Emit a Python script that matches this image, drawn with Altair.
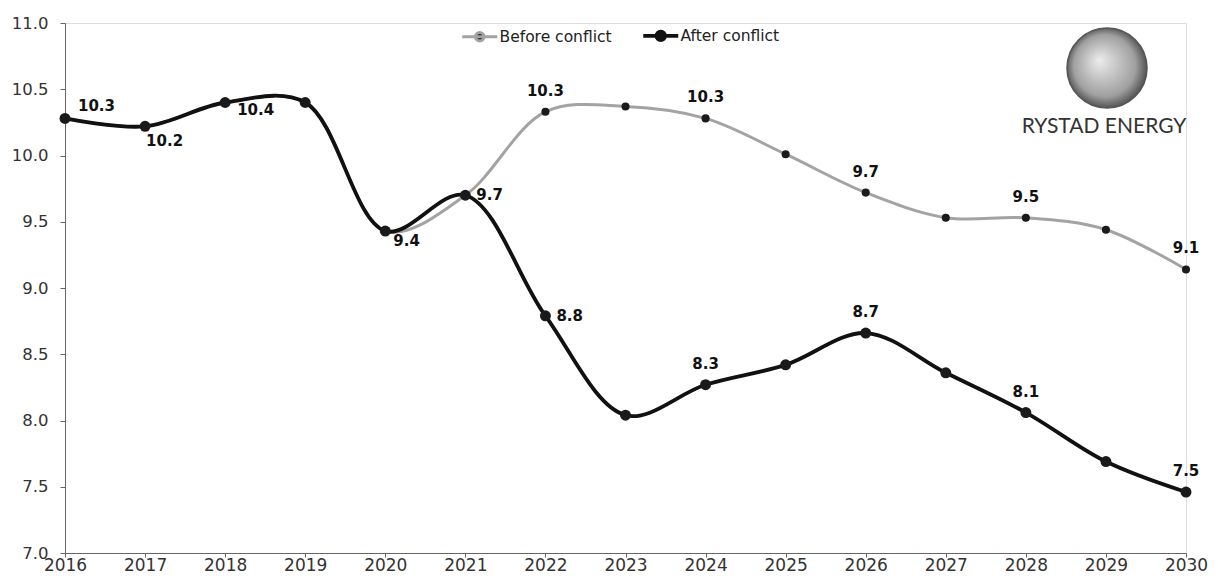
import altair as alt
import pandas as pd

# ---- data ----
years = list(range(2016, 2031))
before_conflict = [10.28, 10.22, 10.40, 10.40, 9.43, 9.70, 10.33, 10.37, 10.28, 10.01, 9.72, 9.53, 9.53, 9.44, 9.14]
after_conflict = [10.28, 10.22, 10.40, 10.40, 9.43, 9.70, 8.79, 8.04, 8.27, 8.42, 8.66, 8.36, 8.06, 7.69, 7.46]
series_names = ["Before conflict", "After conflict"]

after_label_years = [2016, 2017, 2018, 2020, 2021, 2022, 2024, 2026, 2028, 2030]
after_label_place = ["ne", "se", "e_low", "se2", "e", "e", "n", "n", "n", "n"]
before_label_years = [2022, 2024, 2026, 2028, 2030]
before_label_place = ["n", "n", "n", "n", "n"]

y_ticks = [7.0, 7.5, 8.0, 8.5, 9.0, 9.5, 10.0, 10.5, 11.0]
logo_text = "RYSTAD ENERGY"

# ---- tables ----
rows = []
for name, vals in zip(series_names, [before_conflict, after_conflict]):
    for yr, v in zip(years, vals):
        rows.append({"year": yr, "value": v, "series": name})
df = pd.DataFrame(rows)

lab_rows = []
for yr, pl in zip(after_label_years, after_label_place):
    lab_rows.append({"year": yr, "value": after_conflict[years.index(yr)], "series": "After conflict", "place": pl})
for yr, pl in zip(before_label_years, before_label_place):
    lab_rows.append({"year": yr, "value": before_conflict[years.index(yr)], "series": "Before conflict", "place": pl})
lab = pd.DataFrame(lab_rows)

# label placement styles (offsets in px)
placements = {
    "ne": dict(align="left", dx=13, dy=-12),
    "se": dict(align="left", dx=1, dy=15),
    "e_low": dict(align="left", dx=12, dy=7),
    "se2": dict(align="left", dx=8, dy=10),
    "e": dict(align="left", dx=11, dy=0),
    "n": dict(align="center", dx=0, dy=-21),
}

FONT = "DejaVu Sans"

x_enc = alt.X("year:Q",
              scale=alt.Scale(domain=[2016, 2030], nice=False, zero=False),
              axis=alt.Axis(values=years, format="d", title=None, grid=False,
                            labelFontSize=17, labelColor="#333", labelFont=FONT,
                            domainColor="#666", tickColor="#666", tickSize=4,
                            labelPadding=0, labelFlush=False))
y_enc = alt.Y("value:Q",
              scale=alt.Scale(domain=[7, 11], nice=False, zero=False),
              axis=alt.Axis(values=y_ticks, format=".1f", title=None, grid=False,
                            labelFontSize=16.5, labelColor="#333", labelFont=FONT,
                            domainColor="#666", tickColor="#666", tickSize=5,
                            labelPadding=12))

base = alt.Chart(df)

# custom legend glyph: line with a dot (symbol size 100 -> 5px per unit)
legend_path = "M-3.5,0L3.5,0M0.85,0A0.85,0.85,0,1,1,-0.85,0A0.85,0.85,0,1,1,0.85,0Z"

lines = base.mark_line(interpolate="catmull-rom").encode(
    x=x_enc, y=y_enc,
    color=alt.Color("series:N",
                    scale=alt.Scale(domain=series_names, range=["#a3a3a3", "#111111"]),
                    legend=alt.Legend(title=None, orient="none", legendX=407, legendY=5,
                                      direction="horizontal", symbolType=legend_path,
                                      symbolSize=100, symbolStrokeWidth=3,
                                      symbolFillColor="#222",
                                      labelFontSize=15.5, labelColor="#222", labelFont=FONT,
                                      labelOffset=12, columnPadding=23)),
    strokeWidth=alt.StrokeWidth("series:N",
                                scale=alt.Scale(domain=series_names, range=[3, 3.8]),
                                legend=None),
    order=alt.Order("year:Q"),
)

pts_before = base.transform_filter(alt.datum.series == series_names[0]).mark_point(
    filled=True, opacity=1, shape="circle", size=65, color="#1a1a1a"
).encode(x="year:Q", y="value:Q")
pts_after = base.transform_filter(alt.datum.series == series_names[1]).mark_point(
    filled=True, opacity=1, shape="circle", size=120, color="#1a1a1a"
).encode(x="year:Q", y="value:Q")

label_layers = []
for pl, st in placements.items():
    label_layers.append(
        alt.Chart(lab).transform_filter(alt.datum.place == pl).mark_text(
            font=FONT, fontSize=15, fontWeight="bold", color="#111",
            baseline="middle", **st
        ).encode(x="year:Q", y="value:Q", text=alt.Text("value:Q", format=".1f"))
    )

logo_df = pd.DataFrame({"t": [logo_text]})
globe = alt.Chart(logo_df).mark_point(
    shape="circle", filled=True, opacity=1, size=6400,
    fill=alt.RadialGradient(gradient="radial", x1=0.4, y1=0.4, r1=0, x2=0.5, y2=0.5, r2=0.55,
                            stops=[alt.GradientStop(color="#ececec", offset=0),
                                   alt.GradientStop(color="#a0a0a0", offset=0.7),
                                   alt.GradientStop(color="#3a3a3a", offset=1)]),
    stroke="#555", strokeWidth=1.5,
).encode(x=alt.value(1042), y=alt.value(45))
logo = alt.Chart(logo_df).mark_text(
    font="Lato", fontSize=21, color="#333", align="center", baseline="middle"
).encode(x=alt.value(1039), y=alt.value(104), text="t:N")

chart = alt.layer(lines, pts_before, pts_after, *label_layers, globe, logo).properties(
    width=1121, height=530,
    autosize=alt.AutoSizeParams(type="none"),
    padding={"left": 57, "top": 15, "right": 24, "bottom": 22},
).configure_view(stroke=None).configure(background="white")

chart.save("out.html", embed_options={"renderer": "svg", "actions": False})
